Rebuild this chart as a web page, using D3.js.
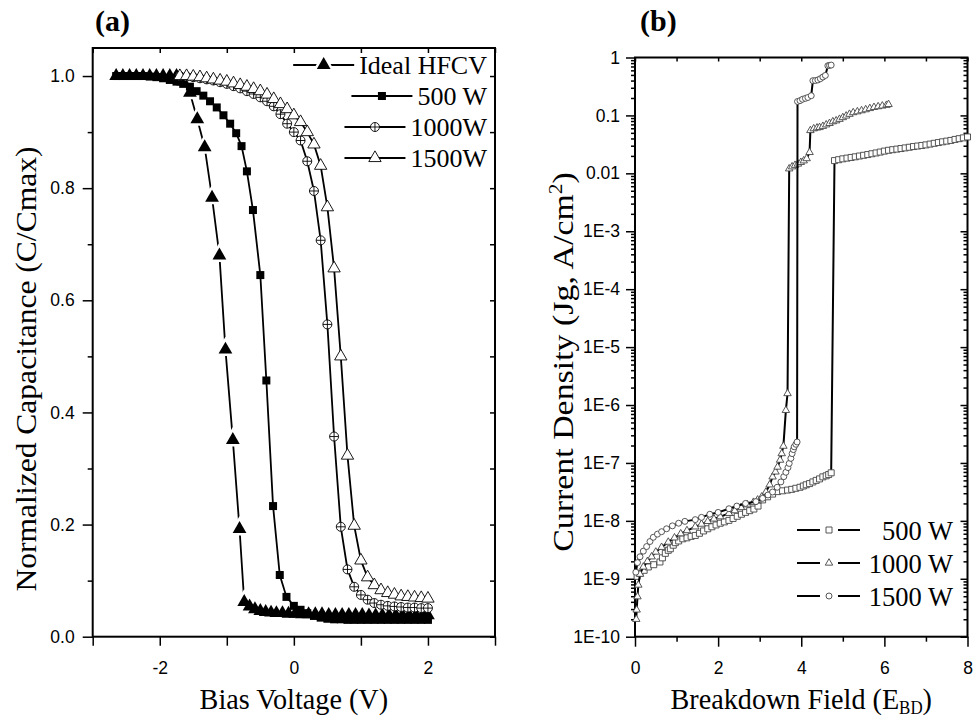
<!DOCTYPE html>
<html>
<head>
<meta charset="utf-8">
<script src="https://cdn.jsdelivr.net/npm/d3@7"></script>
<style>
  body { margin: 0; background: #fff; }
  svg { display: block; }
  .tick text { font-family: "Liberation Sans", Arial, sans-serif; font-size: 17.5px; fill: #000; }
  .serif { font-family: "Liberation Serif", "Times New Roman", serif; fill: #000; }
</style>
</head>
<body>
<svg id="chart" width="974" height="720"></svg>
<script>
// ---- panel (a): normalized C-V curves, [bias V, C/Cmax] ----
const biasIdeal = [[-2.65,1.0],[-2.55,1.0],[-2.45,1.0],[-2.35,1.0],[-2.25,1.0],[-2.15,1.0],[-2.05,1.0],[-1.95,1.0],
  [-1.85,1.0],[-1.75,1.0],[-1.65,0.99],[-1.55,0.97],[-1.44,0.923],[-1.33,0.873],[-1.22,0.783],[-1.11,0.68],
  [-1.02,0.512],[-0.91,0.351],[-0.81,0.192],[-0.74,0.062],[-0.66,0.054],[-0.58,0.049],[-0.5,0.046],[-0.42,0.044],
  [-0.34,0.043],[-0.26,0.042],[-0.17,0.042],[-0.08,0.041],[0.02,0.041],[0.12,0.04],[0.22,0.04],[0.32,0.04],
  [0.42,0.04],[0.52,0.039],[0.62,0.039],[0.72,0.039],[0.82,0.039],[0.92,0.039],[1.02,0.039],[1.12,0.038],
  [1.22,0.038],[1.32,0.038],[1.42,0.038],[1.52,0.038],[1.62,0.038],[1.72,0.038],[1.82,0.038],[1.92,0.038],[2.0,0.038]];

const bias500 = [[-2.65,1.0],[-2.55,1.0],[-2.45,1.0],[-2.35,1.0],[-2.25,1.0],[-2.15,0.999],[-2.05,0.998],[-1.95,0.996],
  [-1.85,0.993],[-1.75,0.99],[-1.65,0.986],[-1.55,0.981],[-1.45,0.973],[-1.35,0.965],[-1.25,0.955],[-1.15,0.944],
  [-1.05,0.93],[-0.95,0.915],[-0.86,0.898],[-0.78,0.875],[-0.7,0.83],[-0.61,0.761],[-0.5,0.645],[-0.41,0.457],
  [-0.31,0.233],[-0.21,0.11],[-0.11,0.071],[0.0,0.055],[0.1,0.048],[0.2,0.042],[0.3,0.037],[0.4,0.034],[0.5,0.032],
  [0.6,0.031],[0.7,0.031],[0.8,0.03],[0.9,0.03],[1.0,0.03],[1.1,0.03],[1.2,0.03],[1.3,0.03],[1.4,0.03],[1.5,0.03],
  [1.6,0.03],[1.7,0.03],[1.8,0.03],[1.9,0.03],[2.0,0.03]];

const bias1000 = [[-1.7,1.0],[-1.6,0.999],[-1.5,0.998],[-1.4,0.996],[-1.3,0.994],[-1.2,0.992],[-1.1,0.989],[-1.0,0.986],
  [-0.9,0.982],[-0.8,0.978],[-0.7,0.973],[-0.6,0.968],[-0.5,0.962],[-0.4,0.955],[-0.3,0.946],[-0.2,0.932],[-0.1,0.915],
  [0.0,0.9],[0.1,0.885],[0.2,0.848],[0.3,0.795],[0.4,0.707],[0.5,0.557],[0.6,0.357],[0.7,0.196],[0.8,0.12],[0.9,0.089],
  [1.0,0.0745],[1.1,0.066],[1.2,0.06],[1.3,0.057],[1.4,0.055],[1.5,0.054],[1.6,0.053],[1.7,0.052],[1.8,0.052],
  [1.9,0.051],[2.0,0.051]];

const bias1500 = [[-1.7,1.0],[-1.6,1.0],[-1.5,0.999],[-1.4,0.998],[-1.3,0.996],[-1.2,0.994],[-1.1,0.992],[-1.0,0.99],
  [-0.9,0.987],[-0.8,0.984],[-0.7,0.981],[-0.6,0.977],[-0.5,0.973],[-0.4,0.967],[-0.3,0.959],[-0.2,0.95],[-0.1,0.941],
  [0.0,0.93],[0.1,0.918],[0.2,0.9],[0.3,0.878],[0.4,0.84],[0.5,0.766],[0.6,0.657],[0.7,0.5],[0.8,0.323],[0.9,0.198],
  [1.0,0.136],[1.1,0.106],[1.2,0.092],[1.3,0.083],[1.4,0.078],[1.5,0.075],[1.6,0.072],[1.7,0.071],[1.8,0.07],
  [1.9,0.069],[2.0,0.068]];

const legendA = ['Ideal HFCV', '500 W', '1000W', '1500W'];
const biasTicks = [-2, 0, 2];
const biasMinor = [-3, -1, 1, 3];
const capTicks = [0, 0.2, 0.4, 0.6, 0.8, 1.0];
const capMinor = [0.1, 0.3, 0.5, 0.7, 0.9];

// ---- panel (b): breakdown J-E, [field, Jg A/cm2] ----
const jg500 = [[0.05,1.1e-9],[0.12,1.25e-9],[0.22,1.4e-9],[0.32,1.6e-9],[0.45,1.75e-9],[0.6,1.95e-9],[0.66,2.3e-9],
  [0.73,2.75e-9],[0.8,3.1e-9],[0.85,3.3e-9],[0.92,3.8e-9],[0.97,4.2e-9],[1.05,4.5e-9],[1.15,4.9e-9],[1.25,5.1e-9],
  [1.35,5.4e-9],[1.45,5.6e-9],[1.55,6.1e-9],[1.65,6.7e-9],[1.75,7.3e-9],[1.85,7.9e-9],[1.95,8.5e-9],[2.05,9.1e-9],
  [2.15,9.6e-9],[2.26,1.02e-8],[2.36,1.1e-8],[2.46,1.2e-8],[2.56,1.3e-8],[2.66,1.4e-8],[2.76,1.5e-8],[2.86,1.6e-8],
  [2.96,1.8e-8],[3.07,2.3e-8],[3.19,2.6e-8],[3.31,2.9e-8],[3.43,3.2e-8],[3.55,3.3e-8],[3.67,3.4e-8],[3.77,3.5e-8],
  [3.87,3.65e-8],[3.97,3.8e-8],[4.05,4.0e-8],[4.12,4.2e-8],[4.2,4.4e-8],[4.28,4.7e-8],[4.36,5.0e-8],[4.44,5.3e-8],
  [4.52,5.75e-8],[4.6,6.0e-8],[4.66,6.3e-8],[4.72,6.75e-8],
  [4.8,1.66e-2],[4.9,1.72e-2],[5.0,1.78e-2],[5.1,1.83e-2],[5.2,1.88e-2],[5.3,1.93e-2],[5.4,1.99e-2],[5.5,2.05e-2],
  [5.6,2.11e-2],[5.7,2.18e-2],[5.8,2.25e-2],[5.9,2.33e-2],[6.0,2.42e-2],[6.1,2.5e-2],[6.2,2.56e-2],[6.3,2.62e-2],
  [6.4,2.68e-2],[6.5,2.75e-2],[6.6,2.82e-2],[6.7,2.9e-2],[6.8,2.96e-2],[6.9,3.03e-2],[7.0,3.1e-2],[7.1,3.2e-2],
  [7.2,3.3e-2],[7.3,3.4e-2],[7.4,3.5e-2],[7.5,3.6e-2],[7.6,3.7e-2],[7.7,3.85e-2],[7.8,3.97e-2],[7.9,4.1e-2],[8.0,4.25e-2]];

const jg1000 = [[0.03,2.0e-10],[0.04,2.9e-10],[0.06,4.9e-10],[0.08,7.8e-10],[0.12,1.2e-9],[0.2,1.6e-9],[0.3,2.0e-9],
  [0.4,2.4e-9],[0.5,2.9e-9],[0.64,3.5e-9],[0.8,4.3e-9],[0.95,5.1e-9],[1.1,6.0e-9],[1.25,6.8e-9],[1.45,7.9e-9],
  [1.6,8.8e-9],[1.75,9.8e-9],[1.9,1.08e-8],[2.05,1.18e-8],[2.26,1.35e-8],[2.4,1.5e-8],[2.55,1.7e-8],[2.7,1.9e-8],
  [2.85,2.1e-8],[2.95,2.3e-8],[3.05,2.6e-8],[3.15,3.15e-8],[3.24,4.2e-8],[3.31,5.75e-8],[3.38,7.0e-8],[3.43,8.5e-8],
  [3.49,1.12e-7],[3.53,1.45e-7],[3.57,1.95e-7],[3.63,8.1e-7],[3.67,1.58e-6],
  [3.71,1.2e-2],[3.78,1.3e-2],[3.85,1.38e-2],[3.92,1.45e-2],[3.99,1.55e-2],[4.06,1.65e-2],[4.13,1.8e-2],[4.2,2.3e-2],
  [4.22,5.5e-2],[4.3,5.9e-2],[4.38,6.1e-2],[4.44,6.2e-2],[4.52,6.5e-2],[4.6,6.9e-2],[4.68,7.3e-2],[4.76,7.8e-2],
  [4.84,8.1e-2],[4.92,8.6e-2],[5.0,9.2e-2],[5.08,9.8e-2],[5.16,0.105],[5.25,0.112],[5.35,0.116],[5.45,0.121],
  [5.55,0.126],[5.65,0.132],[5.75,0.138],[5.85,0.142],[5.95,0.146],[6.05,0.15],[6.1,0.155]];

const jg1500 = [[0.02,1.3e-9],[0.06,1.9e-9],[0.12,2.4e-9],[0.2,3.0e-9],[0.28,3.6e-9],[0.36,4.4e-9],[0.44,5.2e-9],
  [0.54,5.9e-9],[0.64,6.5e-9],[0.76,7.3e-9],[0.9,8.2e-9],[1.05,9.1e-9],[1.2,9.8e-9],[1.45,1.05e-8],[1.6,1.15e-8],
  [1.8,1.3e-8],[2.0,1.4e-8],[2.26,1.62e-8],[2.45,1.8e-8],[2.66,2.0e-8],[2.91,2.15e-8],[3.07,2.45e-8],[3.2,2.8e-8],
  [3.31,3.15e-8],[3.42,3.8e-8],[3.51,4.7e-8],[3.58,5.8e-8],[3.63,6.9e-8],[3.68,8.3e-8],[3.71,9.8e-8],[3.75,1.2e-7],
  [3.78,1.45e-7],[3.81,1.7e-7],[3.83,1.9e-7],[3.87,2.1e-7],[3.9,2.3e-7],
  [3.91,0.174],[3.97,0.18],[4.03,0.19],[4.1,0.197],[4.16,0.204],[4.24,0.219],[4.28,0.398],[4.34,0.4],[4.4,0.41],
  [4.46,0.43],[4.52,0.46],[4.58,0.49],[4.64,0.72],[4.68,0.73],[4.72,0.74]];

const legendB = ['500 W', '1000 W', '1500 W'];
const fieldTicks = [0, 2, 4, 6, 8];
const fieldMinor = [1, 3, 5, 7];
const jgTicks = [1e-10, 1e-9, 1e-8, 1e-7, 1e-6, 1e-5, 1e-4, 1e-3, 1e-2, 1e-1, 1];
const jgTickLabels = ['1E-10', '1E-9', '1E-8', '1E-7', '1E-6', '1E-5', '1E-4', '1E-3', '0.01', '0.1', '1'];

const svg = d3.select('#chart');

// marker shapes
const circlePlus = r => `M${-r},0A${r},${r} 0 1,0 ${r},0A${r},${r} 0 1,0 ${-r},0M${-r},0H${r}M0,${-r}V${r}`;
const shapes = {
  triFill: { d: d3.symbol(d3.symbolTriangle, 82)(), fill: '#000', stroke: 'none' },
  square: { d: d3.symbol(d3.symbolSquare, 64)(), fill: '#000', stroke: 'none' },
  cplus: { d: circlePlus(4.5), fill: '#fff', stroke: '#000' },
  triOpen: { d: d3.symbol(d3.symbolTriangle, 66)(), fill: '#fff', stroke: '#000' },
  sqSmall: { d: d3.symbol(d3.symbolSquare, 36)(), fill: '#fff', stroke: '#444' },
  triSmall: { d: d3.symbol(d3.symbolTriangle, 24)(), fill: '#fff', stroke: '#444' },
  cirSmall: { d: d3.symbol(d3.symbolCircle, 28)(), fill: '#fff', stroke: '#444' }
};

function styleAxis(g) {
  g.select('.domain').remove();
  g.selectAll('.tick line').attr('stroke', '#000').attr('stroke-width', 1.5);
}

function drawMarkers(g, data, x, y, shape, halo) {
  if (halo) {
    g.append('g').selectAll('path').data(data).enter().append('path')
      .attr('d', shapes[shape].d)
      .attr('transform', d => `translate(${x(d[0])},${y(d[1])})`)
      .attr('fill', 'none').attr('stroke', '#fff').attr('stroke-width', 5);
  }
  g.append('g').selectAll('path').data(data).enter().append('path')
    .attr('d', shapes[shape].d)
    .attr('transform', d => `translate(${x(d[0])},${y(d[1])})`)
    .attr('fill', shapes[shape].fill)
    .attr('stroke', shapes[shape].stroke)
    .attr('stroke-width', 0.9);
}

// ================= panel (a) =================
const boxA = { l: 92.7, r: 495, t: 48, b: 636.7 };
const xA = d3.scaleLinear().domain([-3, 3]).range([boxA.l, boxA.r]);
const yA = d3.scaleLinear().domain([0, 1.05]).range([boxA.b, boxA.t]);
const gA = svg.append('g');

gA.append('g').attr('transform', `translate(0,${boxA.b})`)
  .call(d3.axisBottom(xA).tickValues(biasTicks).tickSize(9).tickPadding(16).tickFormat(d => String(d)))
  .call(styleAxis);
gA.append('g').attr('transform', `translate(0,${boxA.b})`)
  .call(d3.axisBottom(xA).tickValues(biasMinor).tickSize(9).tickFormat(''))
  .call(styleAxis);
gA.append('g').attr('transform', `translate(${boxA.l},0)`)
  .call(d3.axisLeft(yA).tickValues(capTicks).tickSize(10).tickPadding(8).tickFormat(d3.format('.1f')))
  .call(styleAxis);
gA.append('g').attr('transform', `translate(${boxA.l},0)`)
  .call(d3.axisLeft(yA).tickValues(capMinor).tickSize(5).tickFormat(''))
  .call(styleAxis);
gA.append('g').attr('transform', `translate(0,${boxA.t})`)
  .call(d3.axisTop(xA).tickValues(biasTicks.concat(biasMinor)).tickSize(-5).tickFormat(''))
  .call(styleAxis);
gA.append('g').attr('transform', `translate(${boxA.r},0)`)
  .call(d3.axisRight(yA).tickValues(capTicks.concat(capMinor)).tickSize(-5).tickFormat(''))
  .call(styleAxis);
gA.append('rect').attr('x', boxA.l).attr('y', boxA.t)
  .attr('width', boxA.r - boxA.l).attr('height', boxA.b - boxA.t)
  .attr('fill', 'none').attr('stroke', '#000').attr('stroke-width', 2);

const lineA = d3.line().x(d => xA(d[0])).y(d => yA(d[1]));
const seriesA = [
  { data: biasIdeal, shape: 'triFill', halo: true },
  { data: bias500, shape: 'square', halo: false },
  { data: bias1000, shape: 'cplus', halo: false },
  { data: bias1500, shape: 'triOpen', halo: false }
];
seriesA.forEach(function (s) {
  const g = gA.append('g');
  g.append('path').attr('d', lineA(s.data)).attr('fill', 'none')
    .attr('stroke', '#000').attr('stroke-width', 1.8);
  drawMarkers(g, s.data, xA, yA, s.shape, s.halo);
});

// legend (a)
seriesA.forEach(function (s, i) {
  const by = 74 + i * 31;
  const t = gA.append('text').attr('class', 'serif').attr('x', 487).attr('y', by)
    .attr('text-anchor', 'end').attr('font-size', 26).text(legendA[i]);
  const x0 = 487 - t.node().getComputedTextLength();
  const ly = by - 9;
  const g = gA.append('g');
  g.append('line').attr('x1', x0 - 66).attr('x2', x0 - 5).attr('y1', ly).attr('y2', ly)
    .attr('stroke', '#000').attr('stroke-width', 1.8);
  const fx = d3.scaleLinear().domain([0, 1]).range([x0 - 66, x0 - 5]);
  const fy = () => ly;
  drawMarkers(g, [[0.5, 0]], fx, fy, s.shape, s.halo);
});

gA.append('text').attr('class', 'serif').attr('font-size', 30).attr('text-anchor', 'middle')
  .attr('transform', `translate(${(boxA.l + boxA.r) / 2},709) scale(0.94,1)`)
  .text('Bias Voltage (V)');
gA.append('text').attr('class', 'serif').attr('font-size', 29).attr('text-anchor', 'middle')
  .attr('transform', 'translate(36,369) rotate(-90) scale(1.088,1)')
  .text('Normalized Capacitance (C/Cmax)');
gA.append('text').attr('class', 'serif').attr('font-size', 30).attr('font-weight', 'bold')
  .attr('x', 95).attr('y', 31).text('(a)');

// ================= panel (b) =================
const boxB = { l: 635, r: 967.5, t: 57.5, b: 636.7 };
const xB = d3.scaleLinear().domain([0, 8]).range([boxB.l, boxB.r]);
const yB = d3.scaleLog().domain([1e-10, 1]).range([boxB.b, boxB.t]);
const gB = svg.append('g');

const jgMinor = [];
for (let e = -10; e < 0; e++) {
  for (let k = 2; k <= 9; k++) jgMinor.push(k * Math.pow(10, e));
}

gB.append('g').attr('transform', `translate(0,${boxB.b})`)
  .call(d3.axisBottom(xB).tickValues(fieldTicks).tickSize(10).tickPadding(15).tickFormat(d => String(d)))
  .call(styleAxis);
gB.append('g').attr('transform', `translate(0,${boxB.b})`)
  .call(d3.axisBottom(xB).tickValues(fieldMinor).tickSize(5).tickFormat(''))
  .call(styleAxis);
gB.append('g').attr('transform', `translate(${boxB.l},0)`)
  .call(d3.axisLeft(yB).tickValues(jgTicks).tickSize(9).tickPadding(6)
    .tickFormat((d, i) => jgTickLabels[i]))
  .call(styleAxis);
gB.append('g').attr('transform', `translate(${boxB.l},0)`)
  .call(d3.axisLeft(yB).tickValues(jgMinor).tickSize(4).tickFormat(''))
  .call(styleAxis);
gB.append('g').attr('transform', `translate(0,${boxB.t})`)
  .call(d3.axisTop(xB).tickValues(fieldTicks.concat(fieldMinor)).tickSize(-4).tickFormat(''))
  .call(styleAxis);
gB.append('g').attr('transform', `translate(${boxB.r},0)`)
  .call(d3.axisRight(yB).tickValues(jgTicks).tickSize(-7).tickFormat(''))
  .call(styleAxis);
gB.append('g').attr('transform', `translate(${boxB.r},0)`)
  .call(d3.axisRight(yB).tickValues(jgMinor).tickSize(-4).tickFormat(''))
  .call(styleAxis);
gB.append('rect').attr('x', boxB.l).attr('y', boxB.t)
  .attr('width', boxB.r - boxB.l).attr('height', boxB.b - boxB.t)
  .attr('fill', 'none').attr('stroke', '#000').attr('stroke-width', 2);

const lineB = d3.line().x(d => xB(d[0])).y(d => yB(d[1]));
const seriesB = [
  { data: jg500, shape: 'sqSmall' },
  { data: jg1000, shape: 'triSmall' },
  { data: jg1500, shape: 'cirSmall' }
];
seriesB.forEach(function (s) {
  const g = gB.append('g');
  g.append('path').attr('d', lineB(s.data)).attr('fill', 'none')
    .attr('stroke', '#000').attr('stroke-width', 2);
  drawMarkers(g, s.data, xB, yB, s.shape, false);
});

// legend (b)
seriesB.forEach(function (s, i) {
  const by = 540 + i * 33;
  const ly = by - 10;
  const g = gB.append('g');
  g.append('line').attr('x1', 797).attr('x2', 820).attr('y1', ly).attr('y2', ly)
    .attr('stroke', '#000').attr('stroke-width', 2);
  g.append('line').attr('x1', 838).attr('x2', 860).attr('y1', ly).attr('y2', ly)
    .attr('stroke', '#000').attr('stroke-width', 2);
  drawMarkers(g, [[0, 0]], () => 829, () => ly, s.shape, false);
  gB.append('text').attr('class', 'serif').attr('x', 953).attr('y', by)
    .attr('text-anchor', 'end').attr('font-size', 26.5).text(legendB[i]);
});

const xt = gB.append('text').attr('class', 'serif').attr('font-size', 30).attr('text-anchor', 'middle')
  .attr('transform', `translate(${(boxB.l + boxB.r) / 2},709) scale(0.94,1)`);
xt.append('tspan').text('Breakdown Field (E');
xt.append('tspan').attr('font-size', 18).attr('dy', 5).text('BD');
xt.append('tspan').attr('dy', -5).text(')');

const yt = gB.append('text').attr('class', 'serif').attr('font-size', 30).attr('text-anchor', 'middle')
  .attr('transform', 'translate(573,362) rotate(-90) scale(1.13,1)');
yt.append('tspan').text('Current Density (Jg, A/cm');
yt.append('tspan').attr('font-size', 19).attr('dy', -11).text('2');
yt.append('tspan').attr('dy', 11).text(')');

gB.append('text').attr('class', 'serif').attr('font-size', 30).attr('font-weight', 'bold')
  .attr('x', 640).attr('y', 31).text('(b)');
</script>
</body>
</html>
